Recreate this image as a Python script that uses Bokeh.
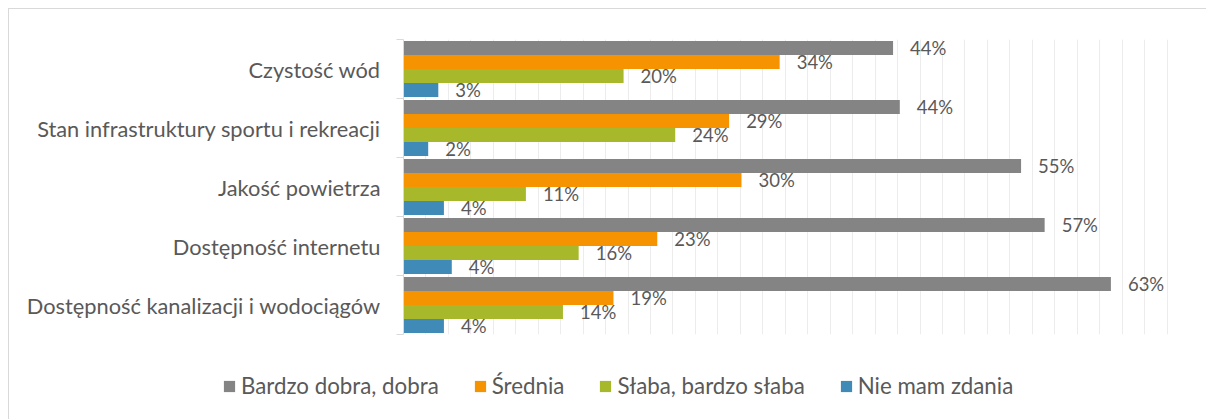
from bokeh.plotting import figure
from bokeh.layouts import column
from bokeh.models import (ColumnDataSource, Range1d, FixedTicker, Legend, LegendItem)
from bokeh.core.properties import value
from bokeh.embed import file_html
from bokeh.resources import INLINE

categories = ["Czystość wód", "Stan infrastruktury sportu i rekreacji", "Jakość powietrza",
              "Dostępność internetu", "Dostępność kanalizacji i wodociągów"]
series_names = ["Bardzo dobra, dobra", "Średnia", "Słaba, bardzo słaba", "Nie mam zdania"]
bardzo_dobra = [43.6, 44.2, 55.0, 57.1, 63.0]
srednia = [33.5, 29.0, 30.1, 22.6, 18.7]
slaba = [19.6, 24.2, 10.9, 15.6, 14.2]
nie_mam = [3.1, 2.2, 3.6, 4.3, 3.6]
series_values = [bardzo_dobra, srednia, slaba, nie_mam]
colors = ["#848484", "#f59300", "#a7b82b", "#3f8ab7"]

FONT = "Lato"
TEXT_COLOR = "#595959"

n = len(categories)
bar_h = 0.238
offsets = [1.5 * bar_h, 0.5 * bar_h, -0.5 * bar_h, -1.5 * bar_h]

p = figure(width=1197, height=341, output_backend="svg", toolbar_location=None,
           x_range=Range1d(0, 70), y_range=Range1d(0, n),
           min_border_left=394, min_border_right=17, min_border_top=30, min_border_bottom=16)
p.outline_line_color = None
p.background_fill_color = "white"
p.frame_align = False

centers = [n - i - 0.5 for i in range(n)]

for s, (name, vals, col, off) in enumerate(zip(series_names, series_values, colors, offsets)):
    src = ColumnDataSource(dict(
        y=[c + off for c in centers],
        right=vals,
        label=[f"{round(v)}%" for v in vals],
    ))
    p.hbar(y="y", left=0, right="right", height=bar_h, source=src,
           fill_color=col, line_color=None)
    p.text(x="right", y="y", text="label", source=src, x_offset=17,
           text_baseline="middle", text_align="left", text_font=value(FONT),
           text_font_size="18.5px", text_color=TEXT_COLOR)

# x axis hidden, grid every 2%
p.xaxis.visible = False
p.xgrid.ticker = FixedTicker(ticks=list(range(2, 71, 2)))
p.xgrid.grid_line_color = "#ececec"
p.xgrid.grid_line_width = 1
p.xgrid.level = "underlay"
p.ygrid.visible = False

yax = p.yaxis[0]
yax.ticker = FixedTicker(ticks=centers, minor_ticks=list(range(0, n + 1)))
yax.major_label_overrides = {c: cat for c, cat in zip(centers, categories)}
yax.major_tick_out = 0
yax.major_tick_in = 0
yax.minor_tick_out = 7
yax.minor_tick_in = 0
yax.minor_tick_line_color = "#d9d9d9"
yax.axis_line_color = "#d9d9d9"
yax.major_label_standoff = 16
yax.major_label_text_font = FONT
yax.major_label_text_font_size = "21.8px"
yax.major_label_text_color = TEXT_COLOR

# legend figure
pl = figure(width=1197, height=69, output_backend="svg", toolbar_location=None,
            x_range=Range1d(0, 1), y_range=Range1d(0, 1),
            min_border_left=0, min_border_right=0, min_border_top=0, min_border_bottom=0)
pl.outline_line_color = None
pl.axis.visible = False
pl.grid.visible = False
pl.frame_align = False
leg_renderers = []
for name, col in zip(series_names, colors):
    r = pl.hbar(y=[-10], left=0, right=[1], height=0.1, fill_color=col, line_color=None)
    leg_renderers.append(r)

legend = Legend(items=[LegendItem(label=nm, renderers=[r]) for nm, r in zip(series_names, leg_renderers)],
                orientation="horizontal", location=(213, 20))
legend.glyph_width = 14
legend.glyph_height = 14
legend.label_standoff = 5
legend.spacing = 34
legend.padding = 0
legend.margin = 0
legend.border_line_color = None
legend.background_fill_alpha = 0
legend.label_text_font = FONT
legend.label_text_font_size = "22.3px"
legend.label_text_color = TEXT_COLOR
pl.add_layout(legend, "center")

layout = column(p, pl, spacing=0)
layout.styles = {"border-top": "1px solid #d9d9d9", "border-left": "1px solid #d9d9d9",
                 "margin-left": "8px", "margin-top": "8px"}

open("out.html", "w").write(file_html(layout, INLINE))
